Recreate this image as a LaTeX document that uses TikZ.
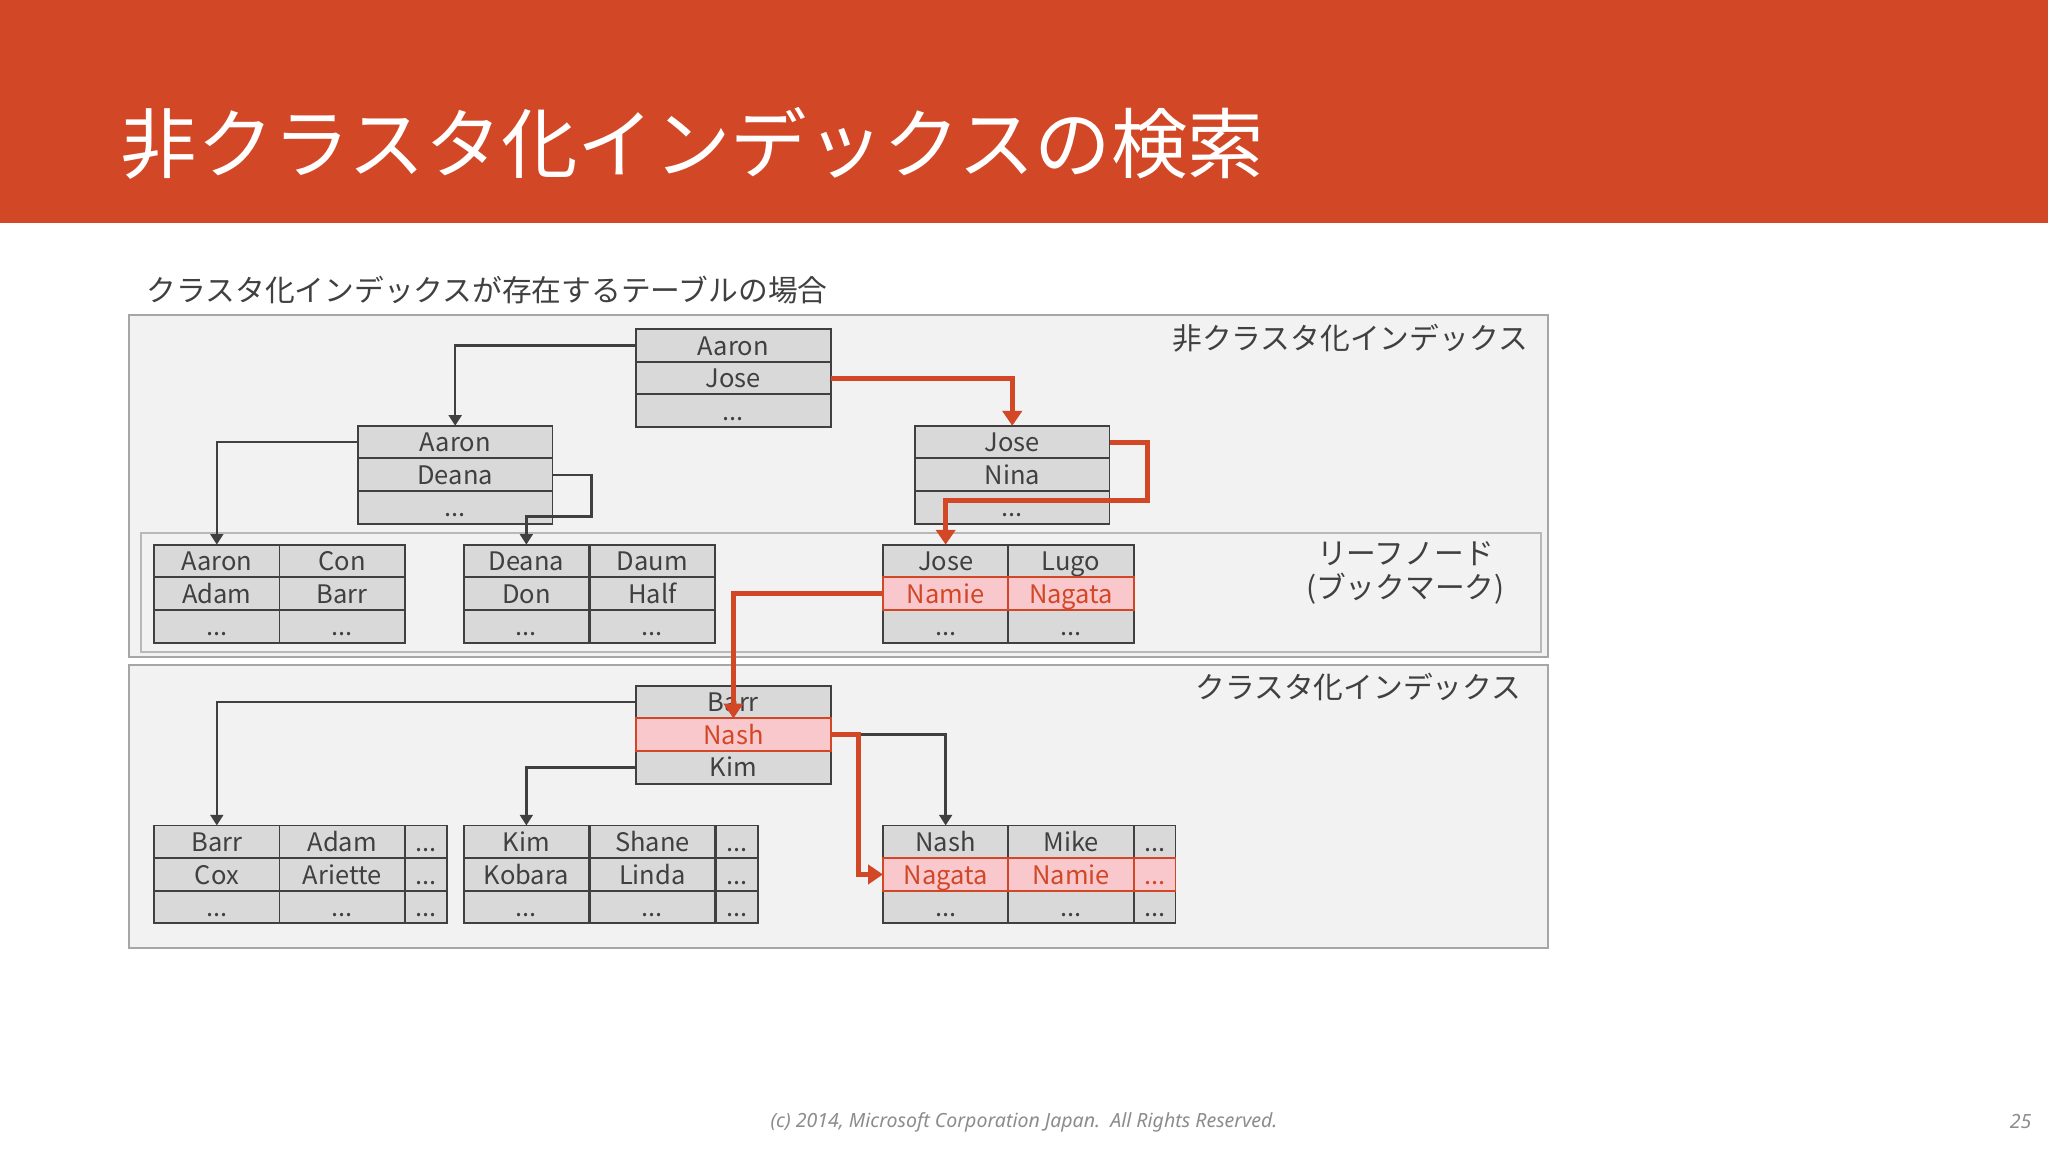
\documentclass[tikz,border=0pt]{standalone}
\usepackage{fontspec}
\setmainfont{Noto Sans CJK JP}
\newfontfamily\footfont{Noto Sans}
\usetikzlibrary{arrows.meta}

\definecolor{band}{HTML}{D24726}
\definecolor{ink}{HTML}{404040}
\definecolor{cellfill}{HTML}{D9D9D9}
\definecolor{panelfill}{HTML}{F2F2F3}
\definecolor{panelline}{HTML}{A6A6A6}
\definecolor{hitred}{HTML}{D24726}
\definecolor{hitfill}{HTML}{F8C8CC}
\definecolor{footgray}{HTML}{8C8C8C}

\begin{document}
\begin{tikzpicture}[x=0.0216cm,y=-0.0216cm,
  cell/.style={draw=ink,fill=cellfill,line width=0.9pt,text=ink,font=\fontsize{12}{14}\selectfont,minimum width=2.074cm,minimum height=0.54cm,text height=9pt,text depth=0pt,inner sep=0pt,outer sep=0pt},
  wcell/.style={cell,minimum width=3.218cm},
  ncell/.style={cell,minimum width=0.691cm},
  hit/.style={draw=hitred,fill=hitfill,text=hitred},
  link/.style={draw=ink,line width=1.2pt,-{Triangle[length=5pt,width=6pt]}},
  redlink/.style={draw=hitred,line width=2.4pt,-{Triangle[length=7pt,width=9pt]}},
  panel/.style={draw=panelline,fill=panelfill,line width=0.9pt},
  lbl/.style={text=ink,font=\fontsize{14}{16}\selectfont,inner sep=0pt}]
\useasboundingbox (0,0) rectangle (1568,882);
\fill[band] (0,0) rectangle (1568,171);
\node[anchor=west,inner sep=0pt,text=white,font=\fontsize{36}{40}\selectfont] (title) at (92,110) {非クラスタ化インデックスの検索};
\node[lbl,anchor=west] (sub) at (112,222) {クラスタ化インデックスが存在するテーブルの場合};

% panels
\draw[panel] (99,241) rectangle (1185,503);
\draw[draw=panelline!80,fill=panelfill,line width=0.9pt] (108,408) rectangle (1180,499);
\draw[panel] (99,509) rectangle (1185,726);
\node[lbl,anchor=east] (nclabel) at (1170,259) {非クラスタ化インデックス};
\node[lbl,align=center] (leaflabel) at (1076,439) {リーフノード\\(ブックマーク)};
\node[lbl,anchor=east] (clabel) at (1165,526) {クラスタ化インデックス};

% non-clustered index
\node[wcell] (nr1) at (561.5,264.5) {Aaron};
\node[wcell] (nr2) at (561.5,289.5) {Jose};
\node[wcell] (nr3) at (561.5,314.5) {...};
\node[wcell] (nl1) at (348.5,338.5) {Aaron};
\node[wcell] (nl2) at (348.5,363.5) {Deana};
\node[wcell] (nl3) at (348.5,388.5) {...};
\node[wcell] (nm1) at (775,338.5) {Jose};
\node[wcell] (nm2) at (775,363.5) {Nina};
\node[wcell] (nm3) at (775,388.5) {...};
\node[cell] (la1) at (166,429.5) {Aaron};
\node[cell] (la2) at (262,429.5) {Con};
\node[cell] (la3) at (166,454.5) {Adam};
\node[cell] (la4) at (262,454.5) {Barr};
\node[cell] (la5) at (166,479.5) {...};
\node[cell] (la6) at (262,479.5) {...};
\node[cell] (lb1) at (403,429.5) {Deana};
\node[cell] (lb2) at (499.5,429.5) {Daum};
\node[cell] (lb3) at (403,454.5) {Don};
\node[cell] (lb4) at (499.5,454.5) {Half};
\node[cell] (lb5) at (403,479.5) {...};
\node[cell] (lb6) at (499.5,479.5) {...};
\node[cell] (lc1) at (724,429.5) {Jose};
\node[cell] (lc2) at (820,429.5) {Lugo};
\node[cell] (lc5) at (724,479.5) {...};
\node[cell] (lc6) at (820,479.5) {...};
\node[cell,hit] (lc3) at (724,454.5) {Namie};
\node[cell,hit] (lc4) at (820,454.5) {Nagata};

% clustered index
\node[wcell] (cr1) at (561.5,537.5) {Barr};
\node[wcell] (cr3) at (561.5,587.5) {Kim};
\node[wcell,hit] (cr2) at (561.5,562.5) {Nash};
\node[cell] (ca1) at (166,644.5) {Barr};
\node[cell] (ca2) at (262,644.5) {Adam};
\node[ncell] (ca3) at (326,644.5) {...};
\node[cell] (ca4) at (166,669.5) {Cox};
\node[cell] (ca5) at (262,669.5) {Ariette};
\node[ncell] (ca6) at (326,669.5) {...};
\node[cell] (ca7) at (166,694.5) {...};
\node[cell] (ca8) at (262,694.5) {...};
\node[ncell] (ca9) at (326,694.5) {...};
\node[cell] (cb1) at (403,644.5) {Kim};
\node[cell] (cb2) at (499.5,644.5) {Shane};
\node[ncell] (cb3) at (564,644.5) {...};
\node[cell] (cb4) at (403,669.5) {Kobara};
\node[cell] (cb5) at (499.5,669.5) {Linda};
\node[ncell] (cb6) at (564,669.5) {...};
\node[cell] (cb7) at (403,694.5) {...};
\node[cell] (cb8) at (499.5,694.5) {...};
\node[ncell] (cb9) at (564,694.5) {...};
\node[cell] (cc1) at (724,644.5) {Nash};
\node[cell] (cc2) at (820,644.5) {Mike};
\node[ncell] (cc3) at (884,644.5) {...};
\node[cell] (cc7) at (724,694.5) {...};
\node[cell] (cc8) at (820,694.5) {...};
\node[ncell] (cc9) at (884,694.5) {...};
\node[cell,hit] (cc4) at (724,669.5) {Nagata};
\node[cell,hit] (cc5) at (820,669.5) {Namie};
\node[ncell,hit] (cc6) at (884,669.5) {...};

% connectors
\draw[link] (nr1.west) -| (nl1.north);
\draw[redlink] (nr2.east) -| (nm1.north);
\draw[link] (nl1.west) -| (la1.north);
\draw[link] (nl2.east) -- ++(30,0) -- ++(0,32) -| (lb1.north);
\draw[redlink] (nm1.east) -- ++(29,0) -- ++(0,45) -| (lc1.north);
\draw[redlink] (lc3.west) -| (cr2.north);
\draw[link] (cr1.west) -| (ca1.north);
\draw[link] (cr3.west) -| (cb1.north);
\draw[link] (cr2.east) -| (cc1.north);
\draw[redlink] (cr2.east) -- ++(21,0) |- (cc4.west);

% footer
\node[text=footgray,font=\footfont\itshape\fontsize{9.2}{11}\selectfont] (foot) at (784,859) {(c) 2014, Microsoft Corporation Japan.\ \ All Rights Reserved.};
\node[text=footgray,font=\footfont\itshape\fontsize{9.2}{11}\selectfont] (page) at (1547,859) {25};
\end{tikzpicture}
\end{document}
